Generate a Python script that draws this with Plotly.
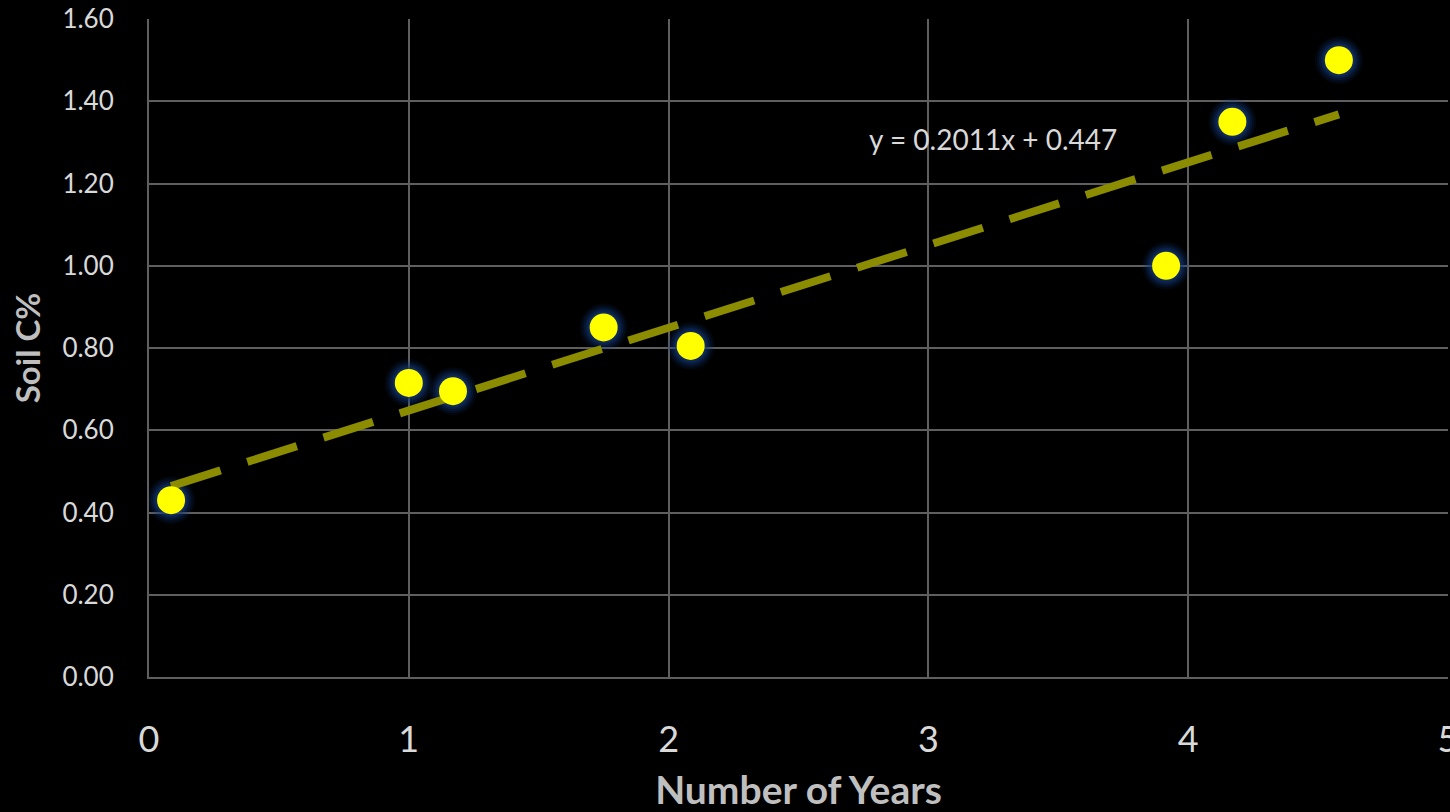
import plotly.graph_objects as go

# Soil carbon measurements by years since establishment
years = [0.085, 1.0, 1.17, 1.75, 2.085, 3.915, 4.17, 4.58]
soil_c = [0.43, 0.715, 0.695, 0.85, 0.805, 1.0, 1.35, 1.50]

# Linear trend as reported on the chart
slope = 0.2011
intercept = 0.447
trend_x = [min(years), max(years)]
trend_y = [slope * x + intercept for x in trend_x]

y_ticks = [0.0, 0.2, 0.4, 0.6, 0.8, 1.0, 1.2, 1.4, 1.6]
x_ticks = [0, 1, 2, 3, 4, 5]

grid = "#5f5f5f"
label = "#d9d9d9"
font = "Lato"

fig = go.Figure()

# soft glow behind markers, built from stacked translucent rings
for size, alpha in [(48, 0.10), (44, 0.14), (40, 0.20), (36, 0.28), (32, 0.38)]:
    fig.add_trace(go.Scatter(
        x=years, y=soil_c, mode="markers",
        marker=dict(size=size, color=f"rgba(20,60,125,{alpha})", line=dict(width=0)),
        hoverinfo="skip", showlegend=False,
    ))

fig.add_trace(go.Scatter(
    x=trend_x, y=trend_y, mode="lines",
    line=dict(color="#8c8c00", width=8, dash="52px,28px"),
    hoverinfo="skip", showlegend=False,
))

fig.add_trace(go.Scatter(
    x=years, y=soil_c, mode="markers",
    marker=dict(size=28, color="#ffff00", line=dict(width=0)),
    showlegend=False,
))

fig.add_annotation(
    x=3.25, y=1.308, xref="x", yref="y",
    text=f"y = {slope}x + {intercept}", showarrow=False,
    font=dict(family=font, size=28, color=label),
)

fig.update_layout(
    width=1450, height=812,
    paper_bgcolor="#000000", plot_bgcolor="#000000",
    margin=dict(l=149, r=2, t=19, b=135, autoexpand=False),
    font=dict(family=font, color=label),
    xaxis=dict(
        range=[0, 5], tickvals=x_ticks, ticktext=[str(v) for v in x_ticks],
        showgrid=True, gridcolor=grid, gridwidth=2,
        showline=True, linecolor=grid, linewidth=2,
        zeroline=False, ticks="", ticklabelstandoff=30,
        ticklabeloverflow="allow", automargin=False,
        tickfont=dict(family=font, size=36, color=label),
        title=dict(text="<b>Number of Years</b>", standoff=18,
                   font=dict(family=font, size=39, color="#bfbfbf")),
    ),
    yaxis=dict(
        range=[0, 1.6], tickvals=y_ticks,
        ticktext=[f"{v:.2f}" for v in y_ticks],
        showgrid=True, gridcolor=grid, gridwidth=2,
        showline=True, linecolor=grid, linewidth=2,
        zeroline=False, ticks="", ticklabelstandoff=28,
        automargin=False,
        tickfont=dict(family=font, size=26, color=label),
        title=dict(text="<b>Soil C%</b>", standoff=12,
                   font=dict(family=font, size=33, color="#bfbfbf")),
    ),
)

fig.write_html("out.html")
